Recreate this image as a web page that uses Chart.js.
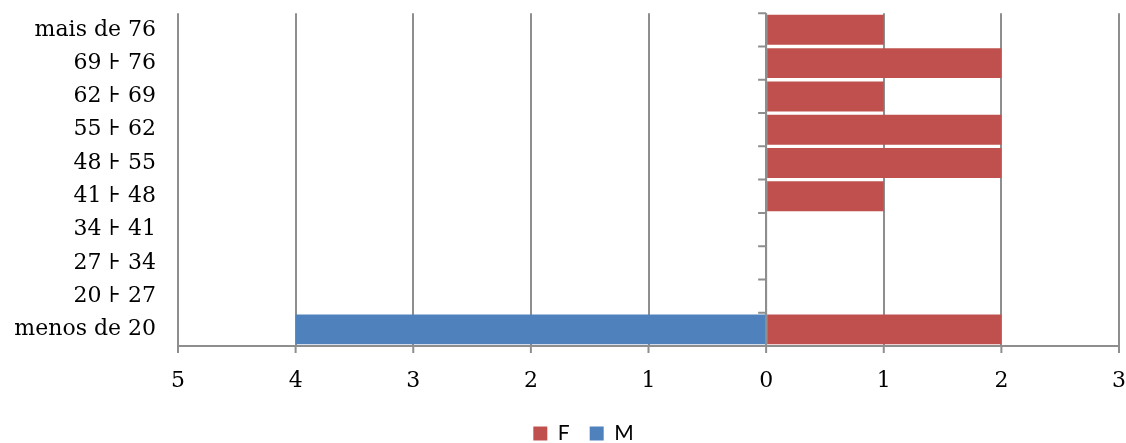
<!DOCTYPE html>
<html>
<head>
<meta charset="utf-8">
<script src="https://cdn.jsdelivr.net/npm/chart.js@4/dist/chart.umd.min.js"></script>
<style>
  html, body { margin: 0; padding: 0; background: #fff; }
  #wrap { width: 1126px; height: 443px; }
</style>
</head>
<body>
<div id="wrap"><canvas id="chart" width="1126" height="443"></canvas></div>
<script>
// faixas etarias, de cima para baixo
const faixas = ['mais de 76', '69 ⊦ 76', '62 ⊦ 69', '55 ⊦ 62', '48 ⊦ 55',
  '41 ⊦ 48', '34 ⊦ 41', '27 ⊦ 34', '20 ⊦ 27', 'menos de 20'];
const valoresF = [1, 2, 1, 2, 2, 1, 0, 0, 0, 2];
const valoresM = [0, 0, 0, 0, 0, 0, 0, 0, 0, -4];
const xMin = -5;
const xMax = 3;

const gridColor = '#8e8e8e';

// eixo vertical em x = 0 com tracos nas divisas, e tracos curtos do eixo x
const axisMarks = {
  id: 'axisMarks',
  afterLayout(chart) {
    // legenda um pouco deslocada para a direita, como no original
    chart.legend.left += 24;
    chart.legend.right += 24;
  },
  afterDatasetsDraw(chart) {
    const ctx = chart.ctx;
    const xs = chart.scales.x;
    const y = chart.scales.y;
    const x0 = xs.getPixelForValue(0);
    ctx.save();
    ctx.strokeStyle = gridColor;
    ctx.lineWidth = 2;
    ctx.beginPath();
    ctx.moveTo(x0, y.top);
    ctx.lineTo(x0, y.bottom);
    for (let i = 0; i <= faixas.length; i++) {
      const py = y.getPixelForValue(i - 0.5);
      ctx.moveTo(x0 - 8, py);
      ctx.lineTo(x0, py);
    }
    xs.ticks.forEach(t => {
      const px = xs.getPixelForValue(t.value);
      ctx.moveTo(px, xs.top);
      ctx.lineTo(px, xs.top + 7);
    });
    ctx.stroke();
    ctx.restore();
  }
};

new Chart(document.getElementById('chart'), {
  type: 'bar',
  data: {
    labels: faixas,
    datasets: [
      { label: 'F', data: valoresF, backgroundColor: '#C0504D', barPercentage: 0.9, categoryPercentage: 1 },
      { label: 'M', data: valoresM, backgroundColor: '#4F81BD', barPercentage: 0.9, categoryPercentage: 1 }
    ]
  },
  options: {
    indexAxis: 'y',
    responsive: false,
    animation: false,
    layout: { padding: { top: 12, right: 7, bottom: -11, left: 0 } },
    scales: {
      x: {
        stacked: true,
        min: xMin,
        max: xMax,
        grid: { color: gridColor, lineWidth: 2, tickLength: 22, drawTicks: true, tickColor: 'rgba(0,0,0,0)' },
        border: { color: gridColor, width: 2 },
        ticks: {
          stepSize: 1,
          padding: 0,
          color: '#000',
          font: { family: 'DejaVu Serif', size: 22 },
          callback: v => Math.abs(v)
        },
        afterFit(scale) { scale.height = 57; }
      },
      y: {
        stacked: true,
        grid: { display: true, drawOnChartArea: false, drawTicks: true, tickLength: 22, tickColor: 'rgba(0,0,0,0)' },
        border: { display: false },
        ticks: {
          padding: 0,
          color: '#000',
          font: { family: 'DejaVu Serif', size: 22 }
        },
        afterFit(scale) { scale.width = 178; }
      }
    },
    plugins: {
      legend: {
        position: 'bottom',
        labels: {
          boxWidth: 14,
          boxHeight: 14,
          padding: 20,
          color: '#000',
          font: { family: 'Lato', size: 21 }
        }
      },
      tooltip: { enabled: false }
    }
  },
  plugins: [axisMarks]
});
</script>
</body>
</html>
